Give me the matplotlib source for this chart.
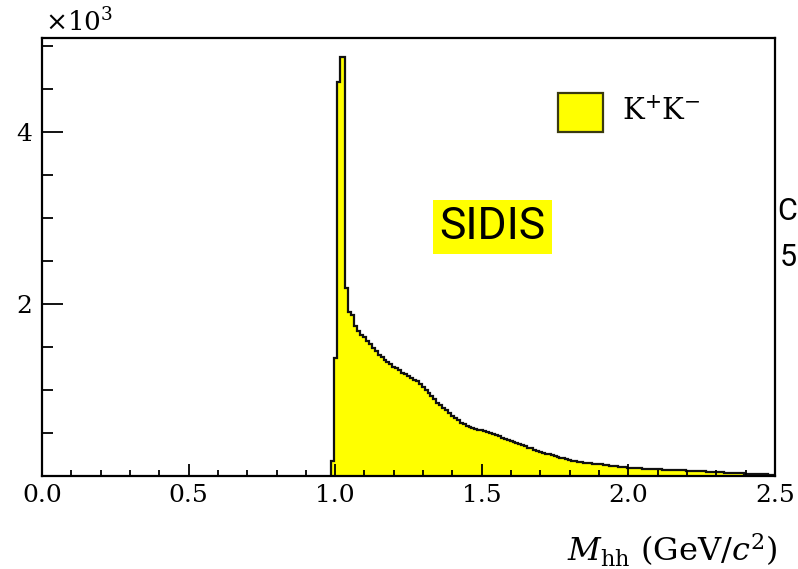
import matplotlib
matplotlib.use("Agg")
import matplotlib.pyplot as plt
from matplotlib.patches import Rectangle
from matplotlib.ticker import MultipleLocator, FixedLocator
import numpy as np

plt.rcParams['font.family'] = ['DejaVu Serif']
plt.rcParams['mathtext.fontset'] = 'dejavuserif'

# K+K- invariant mass histogram, counts in units of 10^3, bins of 0.01 GeV/c^2
bin_lo = 0.985
bin_width = 0.01
counts_k = [
    0.17, 1.37, 4.58, 4.87, 4.87, 2.18, 1.91, 1.87, 1.74, 1.68,   # 0.99 - 1.08
    1.64, 1.61, 1.57, 1.53, 1.49, 1.45, 1.41, 1.38, 1.35, 1.33,   # 1.09 - 1.18
    1.30, 1.27, 1.25, 1.23, 1.20, 1.18, 1.16, 1.14, 1.12, 1.10,   # 1.19 - 1.28
    1.07, 1.04, 1.00, 0.97, 0.93, 0.89, 0.85, 0.82, 0.79, 0.77,   # 1.29 - 1.38
    0.73, 0.70, 0.68, 0.65, 0.62, 0.60, 0.58, 0.565, 0.555, 0.545,  # 1.39 - 1.48
    0.535, 0.53, 0.52, 0.51, 0.50, 0.49, 0.475, 0.46, 0.445, 0.43,  # 1.49 - 1.58
    0.42, 0.405, 0.395, 0.38, 0.37, 0.355, 0.345, 0.33, 0.32, 0.305,  # 1.59 - 1.68
    0.29, 0.28, 0.27, 0.26, 0.255, 0.245, 0.235, 0.225, 0.215, 0.205,  # 1.69 - 1.78
    0.195, 0.187, 0.18, 0.175, 0.168, 0.163, 0.157, 0.151, 0.147, 0.145,  # 1.79 - 1.88
    0.142, 0.14, 0.135, 0.13, 0.126, 0.122, 0.118, 0.113, 0.108, 0.105,  # 1.89 - 1.98
    0.101, 0.098, 0.096, 0.093, 0.091, 0.089, 0.086, 0.083, 0.081, 0.08,  # 1.99 - 2.08
    0.079, 0.078, 0.077, 0.075, 0.074, 0.072, 0.071, 0.07, 0.068, 0.067,  # 2.09 - 2.18
    0.065, 0.064, 0.063, 0.062, 0.06, 0.058, 0.056, 0.054, 0.052, 0.05,  # 2.19 - 2.28
    0.048, 0.046, 0.044, 0.042, 0.04, 0.038, 0.036, 0.035, 0.033, 0.032,  # 2.29 - 2.38
    0.03, 0.029, 0.027, 0.026, 0.024, 0.023, 0.021, 0.02, 0.019, 0.017,  # 2.39 - 2.48
    0.016,                                                          # 2.49
]
legend_label = r'$\mathrm{K}^{+}\mathrm{K}^{-}$'
x_ticks = [0.0, 0.5, 1.0, 1.5, 2.0, 2.5]
y_ticks = [2, 4]

edges = bin_lo + bin_width * np.arange(len(counts_k) + 1)

fig = plt.figure(figsize=(7.98, 5.69), dpi=100)
ax = fig.add_axes([0.0526, 0.1634, 0.9185, 0.7698])

ax.stairs(counts_k, edges, fill=True, color='#ffff00', baseline=0)
ax.stairs(counts_k, edges, color='#111111', lw=1.6, baseline=0)

ax.set_xlim(0, 2.5)
ax.set_ylim(0, 5.09)
ax.xaxis.set_major_locator(FixedLocator(x_ticks))
ax.xaxis.set_minor_locator(MultipleLocator(0.1))
ax.yaxis.set_major_locator(FixedLocator(y_ticks))
ax.yaxis.set_minor_locator(MultipleLocator(0.5))
ax.set_xticklabels(['%.1f' % t for t in x_ticks])
ax.set_yticklabels(['%d' % t for t in y_ticks])

ax.tick_params(axis='both', which='both', direction='in', top=False, right=False,
               width=1.3, labelsize=18)
ax.tick_params(axis='x', which='major', length=9, pad=6)
ax.tick_params(axis='x', which='minor', length=4.5)
ax.tick_params(axis='y', which='major', length=15, pad=7)
ax.tick_params(axis='y', which='minor', length=8)
for s in ax.spines.values():
    s.set_linewidth(1.6)

# exponent label
ax.text(0.004, 1.016, r'$\times10^{3}$', transform=ax.transAxes,
        fontsize=19, ha='left', va='baseline')

# legend
ax.add_patch(Rectangle((0.704, 0.785), 0.0614, 0.089, transform=ax.transAxes,
                       facecolor='#ffff00', edgecolor='#3a3a10', lw=1.6))
ax.text(0.792, 0.831, legend_label, transform=ax.transAxes,
        fontsize=21, ha='left', va='center')

# SIDIS tag
ax.text(0.615, 0.569, 'SIDIS', transform=ax.transAxes, family='Roboto',
        fontsize=32, ha='center', va='center',
        bbox=dict(facecolor='#ffff00', edgecolor='none', pad=4.5))

# x axis title
ax.text(1.003, -0.196, r'$M_{\mathrm{hh}}$ (GeV/$c^{2}$)', transform=ax.transAxes,
        fontsize=23, ha='right', va='baseline')

# fragments of neighbouring slide text at the right edge
fig.text(0.999, 0.628, 'C', family='Roboto', fontsize=22, ha='right', va='center')
fig.text(0.999, 0.548, '5', family='Roboto', fontsize=22, ha='right', va='center')

fig.savefig('out.png', dpi=100)
